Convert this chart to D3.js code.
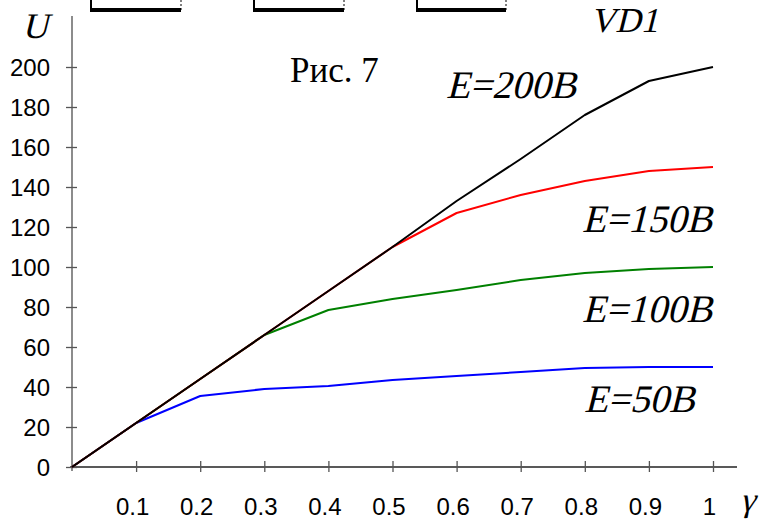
<!DOCTYPE html>
<html>
<head>
<meta charset="utf-8">
<script src="https://cdn.jsdelivr.net/npm/d3@7"></script>
<style>
  body { margin: 0; background: #fff; }
  .tick text { font-family: "Liberation Sans", Arial, sans-serif; font-size: 24px; fill: #000; }
</style>
</head>
<body>
<script>
// Chart data
const gamma = [0, 0.1, 0.2, 0.3, 0.4, 0.5, 0.6, 0.7, 0.8, 0.9, 1.0];
const u50  = [0, 22, 35.5, 39, 40.5, 43.5, 45.5, 47.5, 49.5, 50, 50];
const u100 = [0, 22, 44, 66, 78.5, 84, 88.5, 93.5, 97, 99, 100];
const u150 = [0, 22, 44, 66, 88, 110, 127, 136, 143, 148, 150];
const u200 = [0, 22, 44, 66, 88, 110, 133, 154, 176, 193, 200];
const seriesNames = ["E=50B", "E=100B", "E=150B", "E=200B"];
const seriesColors = ["#0000ff", "#008000", "#ff0000", "#000000"];
const yTicks = [0, 20, 40, 60, 80, 100, 120, 140, 160, 180, 200];
const xTicks = [0.1, 0.2, 0.3, 0.4, 0.5, 0.6, 0.7, 0.8, 0.9, 1];

const width = 763, height = 523;
const serifFont = "'Liberation Serif', 'Times New Roman', 'DejaVu Serif', serif";

const svg = d3.select("body").append("svg")
    .attr("width", width)
    .attr("height", height);

const x = d3.scaleLinear().domain([0, 1]).range([72, 713]);
const y = d3.scaleLinear().domain([0, 200]).range([467, 67]);

// decorative brackets at the top (cut-off drawing above the chart)
[[90, 181], [253, 344], [416, 506]].forEach(function (b) {
    svg.append("line").attr("x1", b[0] + 1).attr("x2", b[0] + 1).attr("y1", 0).attr("y2", 12)
        .attr("stroke", "#000").attr("stroke-width", 2);
    svg.append("line").attr("x1", b[1]).attr("x2", b[1]).attr("y1", 0).attr("y2", 12)
        .attr("stroke", "#000").attr("stroke-width", 1).attr("stroke-dasharray", "2,2");
    svg.append("line").attr("x1", b[0]).attr("x2", b[1]).attr("y1", 10).attr("y2", 10)
        .attr("stroke", "#000").attr("stroke-width", 4);
});

// axes lines
svg.append("line").attr("x1", x(0)).attr("x2", x(0)).attr("y1", 16).attr("y2", y(0) + 4)
    .attr("stroke", "#666").attr("stroke-width", 1.5);
svg.append("line").attr("x1", x(0) - 2).attr("x2", 737).attr("y1", y(0)).attr("y2", y(0))
    .attr("stroke", "#222").attr("stroke-width", 1.5);

// y axis
const yAxis = svg.append("g")
    .attr("transform", "translate(" + x(0) + ",0)")
    .call(d3.axisLeft(y).tickValues(yTicks).tickSize(6).tickPadding(16));
yAxis.select(".domain").remove();
yAxis.selectAll(".tick line").attr("x1", 5).attr("x2", -6).attr("stroke", "#555").attr("stroke-width", 1.3);
yAxis.selectAll(".tick text").attr("dy", "0.35em");

// x axis
const xAxis = svg.append("g")
    .attr("transform", "translate(0," + y(0) + ")")
    .call(d3.axisBottom(x).tickValues(xTicks).tickSize(5)
        .tickFormat(function (d) { return d === 1 ? "1" : d.toFixed(1); }));
xAxis.select(".domain").remove();
xAxis.selectAll(".tick line").attr("y1", -6).attr("y2", 5).attr("stroke", "#555").attr("stroke-width", 1.3);
xAxis.selectAll(".tick text").attr("y", 48).attr("dy", 0).attr("dx", -4);

// lines
const allSeries = [u50, u100, u150, u200];
const line = d3.line()
    .x(function (d, i) { return x(gamma[i]); })
    .y(function (d) { return y(d); });

svg.selectAll(".curve")
    .data(allSeries)
    .enter()
    .append("path")
    .attr("class", "curve")
    .attr("d", line)
    .attr("fill", "none")
    .attr("stroke", function (d, i) { return seriesColors[i]; })
    .attr("stroke-width", 2)
    .attr("stroke-linejoin", "round");

// italic serif text: slant the regular face
function slanted(tx, ty, size, str) {
    return svg.append("text")
        .attr("font-family", serifFont)
        .attr("transform", "translate(" + tx + "," + ty + ") skewX(-14)")
        .attr("font-size", size)
        .text(str);
}

// series labels
const labelPos = [[584, 412], [582, 322], [582, 232], [446, 98]];
seriesNames.forEach(function (name, i) {
    slanted(labelPos[i][0], labelPos[i][1], 39, name);
});

// titles
slanted(22, 38, 36, "U");
slanted(740, 511, 34, "γ");
slanted(590, 32, 35, "VD1");
svg.append("text").attr("font-family", serifFont).attr("x", 290).attr("y", 82)
    .attr("font-size", 35).text("Рис. 7");
</script>
</body>
</html>
